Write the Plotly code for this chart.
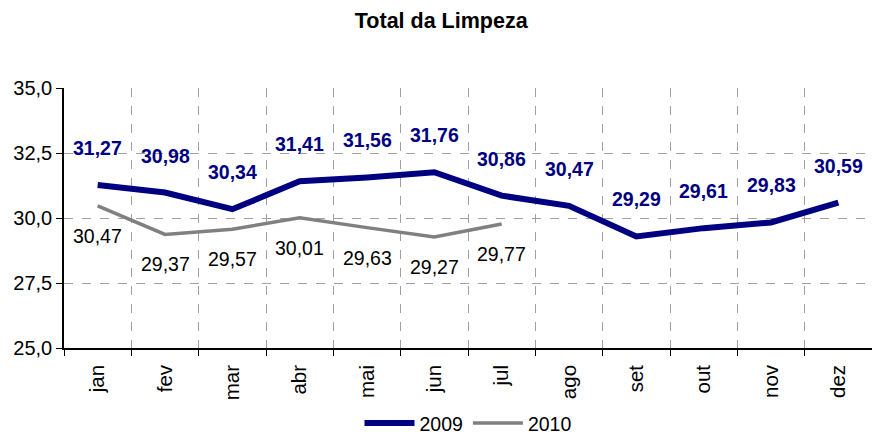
import plotly.graph_objects as go

months = ["jan", "fev", "mar", "abr", "mai", "jun", "jul", "ago", "set", "out", "nov", "dez"]
vals_2009 = [31.27, 30.98, 30.34, 31.41, 31.56, 31.76, 30.86, 30.47, 29.29, 29.61, 29.83, 30.59]
vals_2010 = [30.47, 29.37, 29.57, 30.01, 29.63, 29.27, 29.77]

NAVY = "#000080"
GRAY = "#808080"
FONT = "Liberation Sans, Arial, sans-serif"


def fmt(v):
    return f"{v:.2f}".replace(".", ",")


fig = go.Figure()
fig.add_trace(go.Scatter(x=months, y=vals_2009, mode="lines", name="2009",
                         line=dict(color=NAVY, width=6)))
fig.add_trace(go.Scatter(x=months[:len(vals_2010)], y=vals_2010, mode="lines", name="2010",
                         line=dict(color=GRAY, width=3.5)))

# data labels: 2009 above (bold navy), 2010 below (black)
for m, v in zip(months, vals_2009):
    fig.add_annotation(x=m, y=v, text=f"<b>{fmt(v)}</b>", showarrow=False, yshift=37,
                       font=dict(family=FONT, size=19.5, color=NAVY))
for m, v in zip(months, vals_2010):
    fig.add_annotation(x=m, y=v, text=fmt(v), showarrow=False, yshift=-30,
                       font=dict(family=FONT, size=19.5, color="black"))

fig.update_layout(
    width=872, height=435,
    margin=dict(l=64, r=0, t=88, b=87, autoexpand=False),
    paper_bgcolor="white", plot_bgcolor="white",
    separators=",.",
    font=dict(family=FONT, size=20, color="black"),
    title=dict(text="<b>Total da Limpeza</b>", x=0.506, xanchor="center", y=0.953,
               yanchor="middle", font=dict(family=FONT, size=21.5, color="black")),
    legend=dict(orientation="h", x=0.5, xanchor="center", yref="container", y=0.027,
                yanchor="middle", font=dict(family=FONT, size=19.5), itemwidth=50,
                tracegroupgap=0),
    showlegend=True,
)
fig.update_xaxes(
    tickson="boundaries", showgrid=True, gridcolor="#a0a0a0", griddash="dash", gridwidth=1,
    showline=True, linecolor="black", linewidth=1.5, ticks="outside", ticklen=6,
    tickcolor="black", tickangle=-90, range=[-0.5, 11.5], automargin=False,
    tickfont=dict(size=20.5), ticklabelstandoff=7,
)
fig.update_yaxes(
    range=[25, 35], dtick=2.5, tickformat=".1f", showgrid=True, gridcolor="#a0a0a0",
    griddash="dash", gridwidth=1, showline=True, linecolor="black", linewidth=1.5,
    ticks="outside", ticklen=6, tickcolor="black", zeroline=False, automargin=False,
)

fig.write_html("out.html", config={"displayModeBar": False},
               post_script="document.body.style.margin='0';")
